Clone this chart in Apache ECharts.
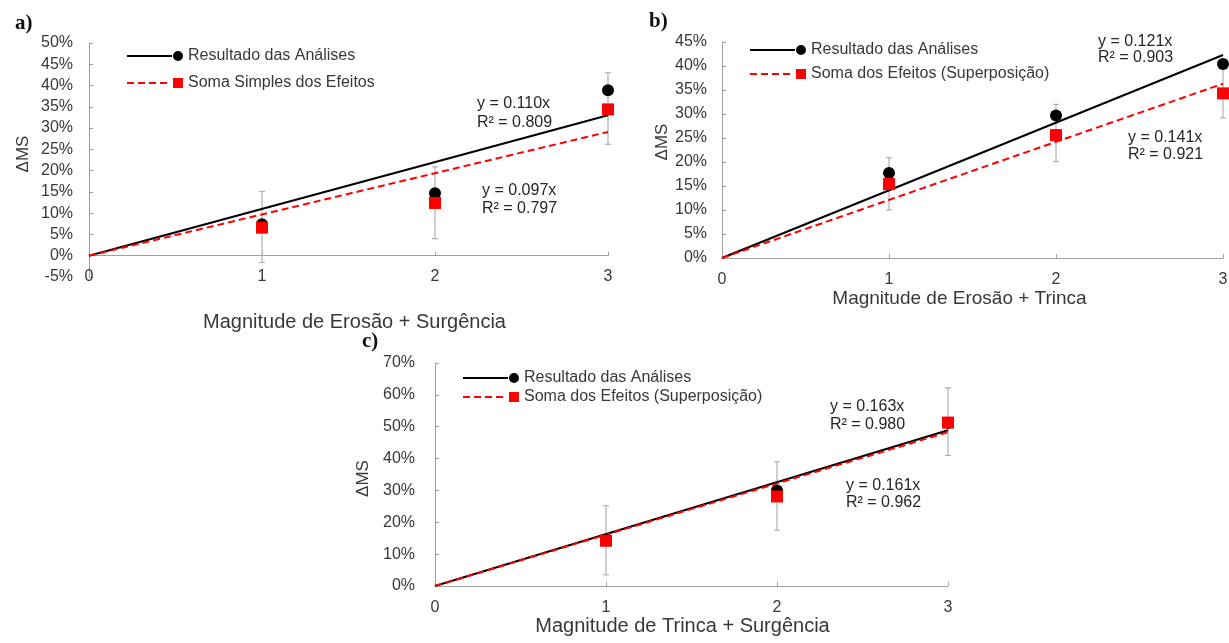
<!DOCTYPE html>
<html><head><meta charset="utf-8">
<script src="https://cdn.jsdelivr.net/npm/echarts@6/dist/echarts.min.js"></script>
<style>html,body{margin:0;padding:0;background:#fff}#c{width:1229px;height:643px}</style>
</head><body><div id="c"></div>
<script>
// ---- data ----
const xValues = [1, 2, 3];

// panel a) Magnitude de Erosão + Surgência
const aBlack = [0.074, 0.147, 0.389];
const aRed = [0.066, 0.124, 0.344];
const aErrLow = [-0.016, 0.040, 0.262];
const aErrHigh = [0.151, 0.209, 0.430];
const aSlopes = [0.110, 0.097]; // black trend, red trend
const aEquations = ['y = 0.110x\nR² = 0.809', 'y = 0.097x\nR² = 0.797'];

// panel b) Magnitude de Erosão + Trinca
const bBlack = [0.177, 0.297, 0.404];
const bRed = [0.154, 0.256, 0.343];
const bErrLow = [0.100, 0.201, 0.292];
const bErrHigh = [0.209, 0.320, 0.400];
const bSlopes = [0.141, 0.121];
const bEquations = ['y = 0.121x\nR² = 0.903', 'y = 0.141x\nR² = 0.921'];

// panel c) Magnitude de Trinca + Surgência
const cBlack = [0.145, 0.300, 0.512];
const cRed = [0.142, 0.281, 0.513];
const cErrLow = [0.035, 0.175, 0.410];
const cErrHigh = [0.252, 0.390, 0.622];
const cSlopes = [0.163, 0.161];
const cEquations = ['y = 0.163x\nR² = 0.980', 'y = 0.161x\nR² = 0.962'];

const nameBlack = 'Resultado das Análises';
const nameRedA = 'Soma Simples dos Efeitos';
const nameRedBC = 'Soma dos Efeitos (Superposição)';
const xNames = ['Magnitude de Erosão + Surgência', 'Magnitude de Erosão + Trinca', 'Magnitude de Trinca + Surgência'];
const yName = 'ΔMS';
const xMin = 0, xMax = 3;

// ---- styling ----
const FONT = '"Liberation Sans", Arial, sans-serif';
const AXIS_COL = '#a0a0a0';
const TXT = '#383838';
const ERR_COL = '#b0b0b0';

const iconBlack = 'path://M0,4h45v2h-45z M46,5a5,5 0 1,0 10,0a5,5 0 1,0 -10,0z';
const iconRed = 'path://M0,4h7v2h-7z M11,4h7v2h-7z M22,4h7v2h-7z M33,4h7v2h-7z M46,0h10v10h-10z';

function errRender(params, api) {
  const x = api.value(0), lo = api.value(1), hi = api.value(2);
  const p1 = api.coord([x, hi]), p2 = api.coord([x, lo]);
  const w = 3;
  const st = { stroke: ERR_COL, lineWidth: 1.2 };
  return {
    type: 'group', children: [
      { type: 'line', shape: { x1: p1[0], y1: p1[1], x2: p2[0], y2: p2[1] }, style: st },
      { type: 'line', shape: { x1: p1[0] - w, y1: p1[1], x2: p1[0] + w, y2: p1[1] }, style: st },
      { type: 'line', shape: { x1: p2[0] - w, y1: p2[1], x2: p2[0] + w, y2: p2[1] }, style: st }
    ]
  };
}

function panelSeries(xi, yi, black, red, lo, hi, slopes, redName) {
  return [
    { type: 'custom', xAxisIndex: xi, yAxisIndex: yi, renderItem: errRender, z: 1,
      encode: { x: 0, y: [1, 2] }, silent: true,
      data: xValues.map((x, i) => [x, lo[i], hi[i]]) },
    { type: 'line', name: 'trend-black', xAxisIndex: xi, yAxisIndex: yi, symbol: 'none', z: 3,
      lineStyle: { color: '#000', width: 2 }, silent: true,
      data: [[xMin, 0], [xMax, slopes[0] * xMax]] },
    { type: 'line', name: 'trend-red', xAxisIndex: xi, yAxisIndex: yi, symbol: 'none', z: 4,
      lineStyle: { color: '#ff0000', width: 2, type: [7, 4] }, silent: true,
      data: [[xMin, 0], [xMax, slopes[1] * xMax]] },
    { type: 'scatter', name: nameBlack, xAxisIndex: xi, yAxisIndex: yi, symbol: 'circle', symbolSize: 12, z: 5,
      itemStyle: { color: '#000', opacity: 1 },
      data: xValues.map((x, i) => [x, black[i]]) },
    { type: 'scatter', name: redName, xAxisIndex: xi, yAxisIndex: yi, symbol: 'rect', symbolSize: 12, z: 6,
      itemStyle: { color: '#ff0000', opacity: 1 },
      data: xValues.map((x, i) => [x, red[i]]) }
  ];
}

const pct = v => Math.round(v * 100) + '%';

function yAxis(gi, min, max, interval, margin, gap, pad) {
  return {
    gridIndex: gi, type: 'value', min, max, interval,
    name: yName, nameLocation: 'middle', nameGap: gap, nameRotate: 90,
    nameTextStyle: { fontFamily: FONT, fontSize: 17, color: TXT, padding: pad },
    axisLine: { show: true, lineStyle: { color: AXIS_COL, width: 1 } },
    axisTick: { show: true, inside: true, length: 4, lineStyle: { color: AXIS_COL } },
    axisLabel: { formatter: pct, fontFamily: FONT, fontSize: 16, color: TXT, margin },
    splitLine: { show: false }
  };
}

const xAxisLabelBase = { fontFamily: FONT, fontSize: 16, color: TXT };

const option = {
  animation: false,
  backgroundColor: '#fff',
  grid: [
    { left: 89, top: 43, width: 519, height: 234, outerBoundsMode: 'none' },
    { left: 722, top: 42, width: 501, height: 216, outerBoundsMode: 'none' },
    { left: 435, top: 363, width: 513, height: 223, outerBoundsMode: 'none' }
  ],
  xAxis: [
    { gridIndex: 0, type: 'value', min: xMin, max: xMax, interval: 1,
      axisLine: { show: false, onZero: false }, axisTick: { show: false }, splitLine: { show: false },
      axisLabel: Object.assign({ margin: 0, verticalAlign: 'middle' }, xAxisLabelBase),
      name: xNames[0], nameLocation: 'middle', nameGap: 35,
      nameTextStyle: { fontFamily: FONT, fontSize: 20, color: TXT, padding: [0, 0, 0, 12] } },
    { gridIndex: 0, type: 'value', min: xMin, max: xMax, interval: 1,
      axisLine: { show: true, onZero: true, lineStyle: { color: AXIS_COL } },
      axisTick: { show: true, length: 4, lineStyle: { color: AXIS_COL } },
      axisLabel: { show: false }, splitLine: { show: false } },
    { gridIndex: 1, type: 'value', min: xMin, max: xMax, interval: 1,
      axisLine: { show: true, lineStyle: { color: AXIS_COL } },
      axisTick: { show: true, inside: true, length: 4, lineStyle: { color: AXIS_COL } },
      splitLine: { show: false },
      axisLabel: Object.assign({ margin: 14 }, xAxisLabelBase),
      name: xNames[1], nameLocation: 'middle', nameGap: 29,
      nameTextStyle: { fontFamily: FONT, fontSize: 19, color: TXT, padding: [0, 26, 0, 0] } },
    { gridIndex: 2, type: 'value', min: xMin, max: xMax, interval: 1,
      axisLine: { show: true, lineStyle: { color: AXIS_COL } },
      axisTick: { show: true, inside: true, length: 4, lineStyle: { color: AXIS_COL } },
      splitLine: { show: false },
      axisLabel: Object.assign({ margin: 14 }, xAxisLabelBase),
      name: xNames[2], nameLocation: 'middle', nameGap: 27,
      nameTextStyle: { fontFamily: FONT, fontSize: 20, color: TXT, padding: [0, 18, 0, 0] } }
  ],
  yAxis: [
    yAxis(0, -0.05, 0.5, 0.05, 16, 57, [0, 0, 0, 12]),
    yAxis(1, 0, 0.45, 0.05, 15, 47, [0, 0, 0, 16]),
    yAxis(2, 0, 0.7, 0.1, 20, 63, [0, 8, 0, 0])
  ],
  legend: [
    { left: 122, top: 43, orient: 'vertical', itemGap: 11, itemWidth: 56, itemHeight: 10, selectedMode: false,
      textStyle: { fontFamily: FONT, fontSize: 16, color: TXT },
      data: [{ name: nameBlack, icon: iconBlack }, { name: nameRedA, icon: iconRed }] },
    { left: 745, top: 37, orient: 'vertical', itemGap: 8, itemWidth: 56, itemHeight: 10, selectedMode: false,
      textStyle: { fontFamily: FONT, fontSize: 16, color: TXT },
      data: [{ name: nameBlack, icon: iconBlack }, { name: nameRedBC, icon: iconRed }] },
    { left: 458, top: 365, orient: 'vertical', itemGap: 3, itemWidth: 56, itemHeight: 10, selectedMode: false,
      textStyle: { fontFamily: FONT, fontSize: 16, color: TXT },
      data: [{ name: nameBlack, icon: iconBlack }, { name: nameRedBC, icon: iconRed }] }
  ],
  graphic: [
    { type: 'text', left: 15, top: 13, style: { text: 'a)', font: 'bold 21px "Liberation Serif", serif', fill: '#111' } },
    { type: 'text', left: 649, top: 11, style: { text: 'b)', font: 'bold 21px "Liberation Serif", serif', fill: '#111' } },
    { type: 'text', left: 362, top: 331, style: { text: 'c)', font: 'bold 21px "Liberation Serif", serif', fill: '#111' } },
    { type: 'text', left: 477, top: 94, style: { text: aEquations[0], font: '16px ' + FONT, fill: '#262626', lineHeight: 19 } },
    { type: 'text', left: 482, top: 182, style: { text: aEquations[1], font: '16px ' + FONT, fill: '#262626', lineHeight: 18 } },
    { type: 'text', left: 1098, top: 34, style: { text: bEquations[0], font: '16px ' + FONT, fill: '#262626', lineHeight: 16 } },
    { type: 'text', left: 1128, top: 129, style: { text: bEquations[1], font: '16px ' + FONT, fill: '#262626', lineHeight: 17 } },
    { type: 'text', left: 830, top: 398, style: { text: cEquations[0], font: '16px ' + FONT, fill: '#262626', lineHeight: 18 } },
    { type: 'text', left: 846, top: 477, style: { text: cEquations[1], font: '16px ' + FONT, fill: '#262626', lineHeight: 17 } }
  ],
  series: [].concat(
    panelSeries(0, 0, aBlack, aRed, aErrLow, aErrHigh, aSlopes, nameRedA),
    panelSeries(2, 1, bBlack, bRed, bErrLow, bErrHigh, bSlopes, nameRedBC),
    panelSeries(3, 2, cBlack, cRed, cErrLow, cErrHigh, cSlopes, nameRedBC)
  )
};

const chart = echarts.init(document.getElementById('c'), null, { renderer: 'canvas' });
chart.setOption(option);
</script>
</body></html>
